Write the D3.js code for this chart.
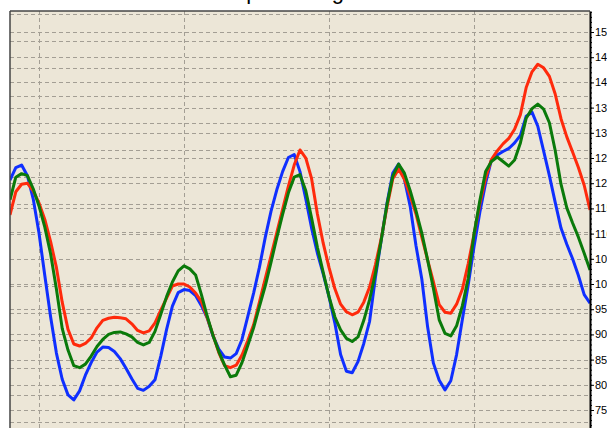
<!DOCTYPE html>
<html>
<head>
<meta charset="utf-8">
<script src="https://cdn.jsdelivr.net/npm/d3@7"></script>
<style>
  html, body { margin: 0; padding: 0; background: #ffffff; overflow: hidden; }
  svg { display: block; }
</style>
</head>
<body>
<svg id="chart" width="607" height="428"></svg>
<script>
// ---- data ----
const titleText = "Stock price range";
const blueSeries = [120.6,123.1,123.6,121.5,116.9,110.1,101.7,93.5,86.3,81.1,78.0,77.0,78.8,81.9,84.4,86.5,87.5,87.4,86.6,85.2,83.3,81.2,79.3,78.9,79.7,81.0,85.7,91.0,95.6,98.3,98.9,98.7,97.7,95.7,93.3,89.7,87.1,85.5,85.3,86.2,89.0,93.6,98.2,103.3,109.2,114.4,118.7,122.3,125.1,125.7,122.3,116.9,111.1,106.1,102.0,97.5,92.3,86.0,82.7,82.4,84.6,88.2,92.6,101.3,108.7,116.0,122.0,123.8,120.8,115.4,107.6,101.0,91.5,84.3,80.9,79.0,80.8,86.0,93.0,99.8,107.4,114.2,120.0,124.6,125.6,126.3,126.9,128.0,129.5,133.3,134.1,131.3,126.4,121.5,116.2,111.1,107.9,105.0,101.7,97.9,96.2];
const redSeries = [113.7,118.3,119.8,120.0,118.5,116.1,112.8,108.4,103.3,96.4,91.0,88.1,87.7,88.2,89.3,91.3,92.8,93.2,93.4,93.3,93.1,92.1,90.8,90.3,90.7,92.3,94.8,97.2,99.6,100.0,100.0,99.4,98.2,96.5,93.3,89.9,86.4,83.8,83.4,83.9,85.9,88.8,91.9,96.4,101.0,105.6,110.2,114.8,119.4,123.6,126.6,125.0,120.9,113.9,108.1,103.3,99.1,96.0,94.5,93.9,94.4,96.4,99.4,103.8,109.0,115.3,120.9,122.8,120.8,117.5,113.9,109.3,104.8,100.4,95.9,94.4,94.2,96.0,99.0,104.0,109.8,115.9,121.0,124.7,126.4,127.8,128.9,130.7,133.6,139.0,142.1,143.6,142.9,141.2,137.7,132.8,129.2,126.2,123.1,119.6,114.7];
const greenSeries = [116.7,121.2,121.9,121.5,118.9,115.5,111.3,106.0,99.0,91.2,86.9,83.8,83.4,84.1,85.7,87.6,89.0,90.0,90.4,90.5,90.1,89.5,88.4,87.9,88.4,90.6,94.0,97.5,100.4,102.6,103.6,103.0,101.8,97.9,93.6,89.8,86.6,83.9,81.6,81.9,84.4,87.8,91.3,95.5,99.6,104.3,109.2,113.8,118.1,121.2,121.7,118.5,113.1,107.3,102.3,97.5,93.5,90.9,89.2,88.6,89.5,92.8,96.9,102.1,108.7,115.8,121.4,123.8,122.0,118.5,114.5,110.1,104.8,99.1,92.9,90.2,89.7,91.7,95.7,101.1,109.9,116.5,122.3,124.3,125.2,124.3,123.4,124.6,128.0,132.9,134.8,135.7,134.7,132.0,126.5,119.8,115.1,112.1,109.3,106.1,102.8];
const rightTicks = [75, 80, 85, 90, 95, 100, 105, 110, 115, 120, 125, 130, 135, 140, 145, 150];
const leftTicks = [0,1,2,3,4,5,6,7,8,9,10,11,12,13,14,15];   // hidden left-axis grid
const xGridIndex = [5, 30, 55, 80];

// ---- layout ----
const svg = d3.select("#chart");
const plot = { left: 10, right: 590, top: 11, bottom: 440 };

const x = d3.scaleLinear().domain([0, blueSeries.length - 1]).range([plot.left, plot.right]);
const yR = d3.scaleLinear().domain([69.05, 154.17]).range([plot.bottom, plot.top]);
const yL = d3.scaleLinear().domain([-0.66, 15.11]).range([plot.bottom, plot.top]);

// background
svg.append("rect")
  .attr("x", plot.left).attr("y", plot.top)
  .attr("width", plot.right - plot.left).attr("height", plot.bottom - plot.top)
  .attr("fill", "#ece6d7");

const grid = svg.append("g").attr("stroke", "#a39e94").attr("stroke-width", 1)
  .attr("stroke-dasharray", "4,3").attr("shape-rendering", "crispEdges");

grid.selectAll("line.gl").data(leftTicks).join("line")
  .attr("x1", plot.left).attr("x2", plot.right)
  .attr("y1", d => Math.round(yL(d)) + 0.5).attr("y2", d => Math.round(yL(d)) + 0.5);
grid.selectAll("line.gr").data(rightTicks).join("line")
  .attr("x1", plot.left).attr("x2", plot.right)
  .attr("y1", d => Math.round(yR(d)) + 0.5).attr("y2", d => Math.round(yR(d)) + 0.5);
grid.selectAll("line.gx").data(xGridIndex).join("line")
  .attr("x1", d => Math.round(x(d)) + 0.5).attr("x2", d => Math.round(x(d)) + 0.5)
  .attr("y1", plot.top).attr("y2", plot.bottom);

// series
svg.append("clipPath").attr("id", "pc").append("rect")
  .attr("x", plot.left).attr("y", plot.top)
  .attr("width", plot.right - plot.left).attr("height", plot.bottom - plot.top);

const line = d3.line().x((d, i) => x(i)).y(d => yR(d)).curve(d3.curveLinear);
const series = [
  { data: blueSeries, color: "#0f2fff" },
  { data: redSeries, color: "#ff2a0c" },
  { data: greenSeries, color: "#0a7a0a" }
];
svg.append("g").attr("clip-path", "url(#pc)")
  .selectAll("path").data(series).join("path")
  .attr("d", d => line(d.data))
  .attr("fill", "none")
  .attr("stroke", d => d.color)
  .attr("stroke-width", 3)
  .attr("stroke-linejoin", "round");

// frame (left and top)
svg.append("line").attr("x1", plot.left).attr("x2", plot.left).attr("y1", plot.top).attr("y2", plot.bottom)
  .attr("stroke", "#444").attr("stroke-width", 1.5);
svg.append("line").attr("x1", plot.left).attr("x2", plot.right).attr("y1", plot.top).attr("y2", plot.top)
  .attr("stroke", "#444").attr("stroke-width", 1.5);

// right axis with minor ticks
const minorTicks = d3.range(70, 155, 1);
svg.append("g").attr("transform", `translate(${plot.right},0)`)
  .call(d3.axisRight(yR).tickValues(minorTicks).tickSize(2).tickFormat(""))
  .call(g => g.select(".domain").remove())
  .selectAll("line").attr("stroke", "#000");
const axisR = svg.append("g").attr("transform", `translate(${plot.right},0)`)
  .call(d3.axisRight(yR).tickValues(rightTicks).tickSize(4).tickPadding(1).tickSizeOuter(0));
axisR.select(".domain").attr("stroke", "#000").attr("stroke-width", 2);
axisR.selectAll("line").attr("stroke", "#000");
axisR.selectAll("text").attr("font-family", "Arial, 'Liberation Sans', sans-serif")
  .attr("font-size", 11).attr("fill", "#000");

// title (only its descenders fall inside the visible area)
svg.append("text").attr("x", 185).attr("y", -1.5)
  .attr("font-family", "Arial, 'Liberation Sans', sans-serif").attr("font-size", 22)
  .attr("fill", "#000").text(titleText);
</script>
</body>
</html>
